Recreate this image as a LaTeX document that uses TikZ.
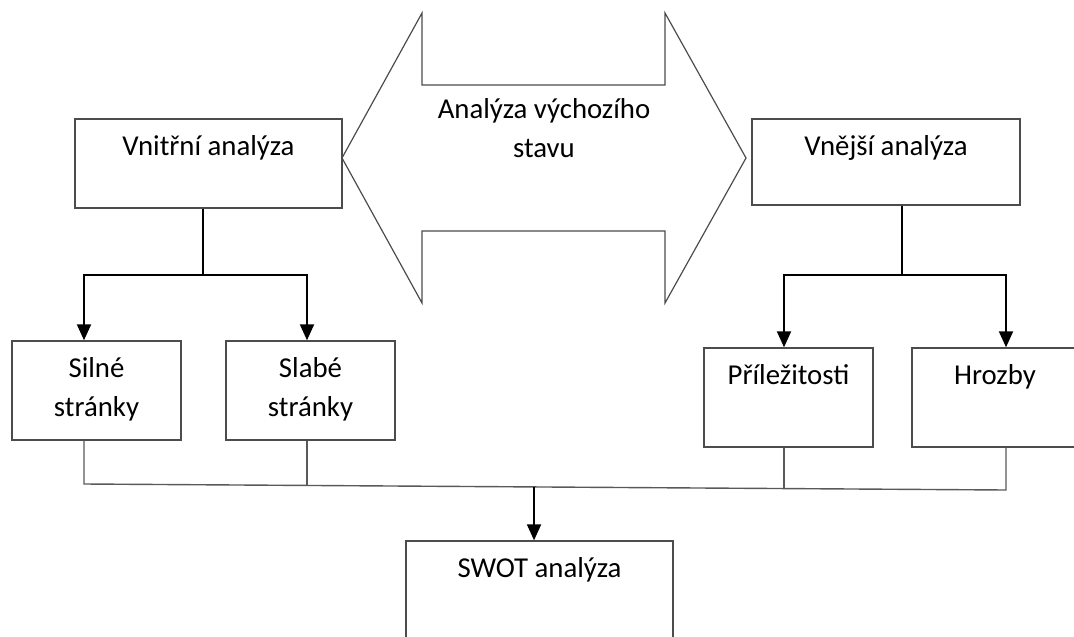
\documentclass[tikz,border=0pt]{standalone}
\usepackage{fontspec}
\setmainfont{Carlito}
\usetikzlibrary{arrows.meta,calc}

\begin{document}
\begin{tikzpicture}[x=0.5pt,y=-0.5pt,
  txt/.style={anchor=north, align=center, inner sep=0pt, text height=10pt,
    font=\fontsize{14.4}{19.5}\selectfont},
  twoline/.style={text height=29.5pt},
  boxtext/.style={txt, yshift=-8.5pt},
  box/.style={draw=black!70, line width=0.7pt, inner sep=0pt},
  link/.style={line width=1pt},
  thinlink/.style={draw=black!65, line width=0.7pt},
  arr/.style={line width=1pt, -{Triangle[length=8pt,width=7pt]}}]
\clip (0,0) rectangle (1074,636);

% two-headed arrow
\draw[draw=black!70, line width=0.6pt] (342,158) -- (422,13) -- (422,85) -- (665,85)
  -- (665,13) -- (746,158) -- (665,303) -- (665,231) -- (422,231) -- (422,303) -- cycle;
\node[txt, twoline] (stav) at (544,98) {Analýza výchozího\\stavu};

% analyses
\node[box, minimum width=133.5pt, minimum height=44.5pt,
  label={[boxtext]north:Vnitřní analýza}] (vnitrni) at (208.5,163.5) {};
\node[box, minimum width=134pt, minimum height=43pt,
  label={[boxtext]north:Vnější analýza}] (vnejsi) at (886,162) {};

% strengths, weaknesses, opportunities, threats
\node[box, minimum width=84.5pt, minimum height=49.5pt,
  label={[boxtext, twoline]north:{Silné\\stránky}}] (silne) at (96.5,390.5) {};
\node[box, minimum width=84.5pt, minimum height=49.5pt,
  label={[boxtext, twoline]north:{Slabé\\stránky}}] (slabe) at (310.5,390.5) {};
\node[box, minimum width=84.5pt, minimum height=49.5pt,
  label={[boxtext]north:Příležitosti}] (prilez) at (788.5,397.5) {};
\node[box, minimum width=83pt, minimum height=49.5pt,
  label={[boxtext]north:Hrozby}] (hrozby) at (995,397.5) {};

% SWOT
\node[box, minimum width=133.5pt, minimum height=60pt,
  label={[boxtext]north:SWOT analýza}] (swot) at (539.5,601) {};

% internal branch
\coordinate (vs) at (203,275);
\coordinate (va) at (84,275);
\coordinate (vb) at (307,275);
\draw[link] (vnitrni.south -| vs) -- (vs);
\draw[arr] (vs) -- (va) -- (silne.north -| va);
\draw[arr] (vs) -- (vb) -- (slabe.north -| vb);

% external branch
\coordinate (es) at (902,275);
\coordinate (ea) at (784,275);
\coordinate (eb) at (1006,275);
\draw[link] (vnejsi.south -| es) -- (es);
\draw[arr] (es) -- (ea) -- (prilez.north -| ea);
\draw[arr] (es) -- (eb) -- (hrozby.north -| eb);

% joining line
\coordinate (jl) at (84,484);
\coordinate (jr) at (1006,490);
\coordinate (jb) at ($(jl)!0.2419!(jr)$);
\coordinate (jc) at ($(jl)!0.7592!(jr)$);
\coordinate (js) at ($(jl)!0.4881!(jr)$);
\draw[thinlink] (silne.south -| jl) -- (jl) -- (jr) -- (hrozby.south -| jr);
\draw[thinlink] (slabe.south -| jb) -- (jb);
\draw[thinlink] (prilez.south -| jc) -- (jc);
\draw[arr] (js) -- (swot.north -| js);
\end{tikzpicture}
\end{document}
